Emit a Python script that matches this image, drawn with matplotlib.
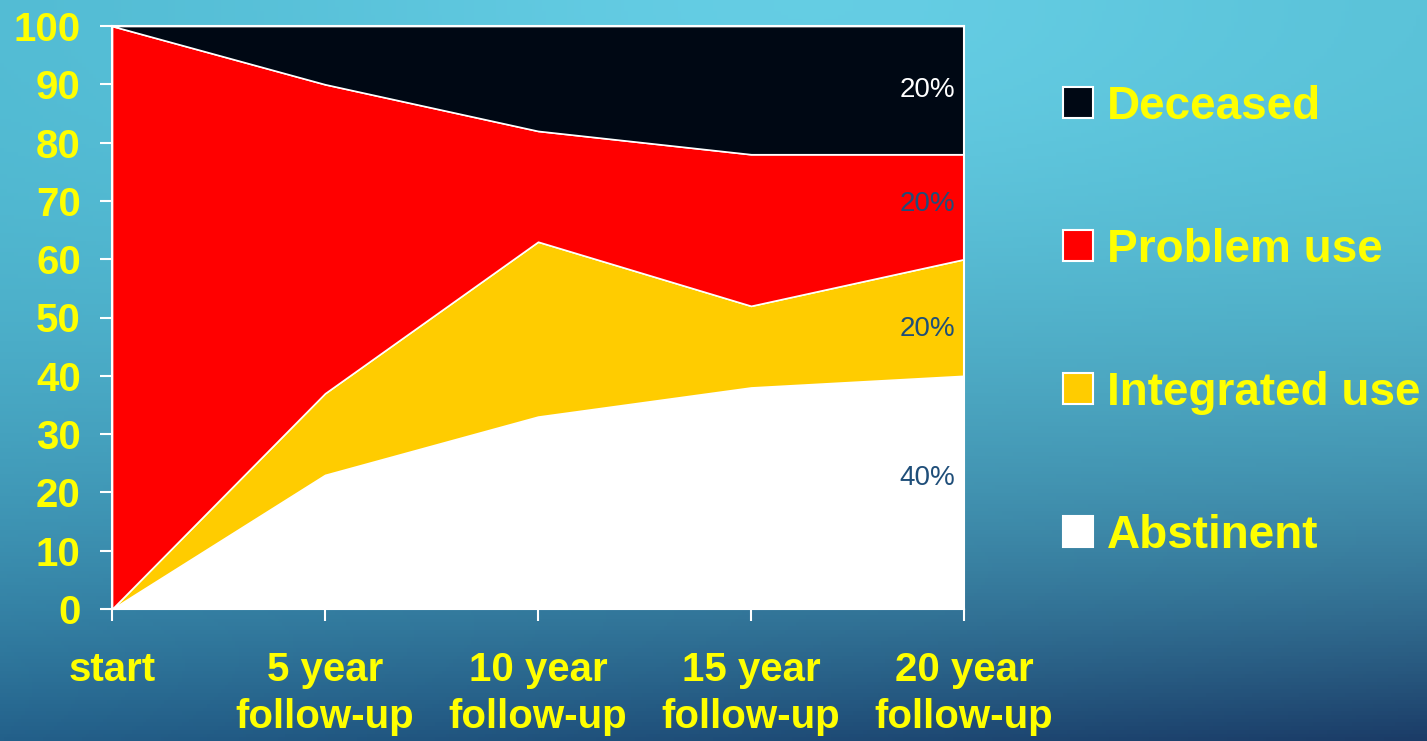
import numpy as np
import matplotlib
matplotlib.use('Agg')
import matplotlib.pyplot as plt
from matplotlib.patches import Patch
from matplotlib.colors import to_rgb

# --- data (percent of cohort) ---
periods = ['start', '5 year\nfollow-up', '10 year\nfollow-up', '15 year\nfollow-up', '20 year\nfollow-up']
abstinent = [0, 23, 33, 38, 40]
integrated = [0, 14, 30, 14, 20]
problem = [100, 53, 19, 26, 18]
deceased = [0, 10, 18, 22, 22]

series_names = ['Abstinent', 'Integrated use', 'Problem use', 'Deceased']
series_colors = ['#FFFFFF', '#FFCC00', '#FF0000', '#000814']
end_labels = ['40%', '20%', '20%', '20%']
end_label_y = [22.5, 48, 69.5, 89]
end_label_colors = ['#1F4E79', '#1F4E79', '#1F4E79', '#FFFFFF']

yellow = '#FFFF00'
plt.rcParams['font.family'] = ['Liberation Sans', 'DejaVu Sans']

fig = plt.figure(figsize=(14.27, 7.41), dpi=100)

# background gradient (light teal at top, dark navy bottom right)
bg = fig.add_axes([0, 0, 1, 1], zorder=0)
h, w = 200, 400
yy, xx = np.mgrid[0:1:h * 1j, 0:1:w * 1j]
t = yy ** 2.4
tl, tr = np.array(to_rgb('#52BBD3')), np.array(to_rgb('#58C0D6'))
bl, br = np.array(to_rgb('#23608A')), np.array(to_rgb('#1B3C67'))
top = tl[None, None, :] * (1 - xx[..., None]) + tr[None, None, :] * xx[..., None]
bot = bl[None, None, :] * (1 - xx[..., None]) + br[None, None, :] * xx[..., None]
img = top * (1 - t[..., None]) + bot * t[..., None]
# soft highlight near the top middle
glow = np.exp(-(((xx - 0.55) / 0.35) ** 2 + (yy / 0.35) ** 2))
img = np.clip(img + 0.06 * glow[..., None], 0, 1)
bg.imshow(img, aspect='auto', extent=[0, 1, 0, 1], origin='upper')
bg.set_axis_off()

ax = fig.add_axes([112 / 1427, 1 - 609 / 741, (964 - 112) / 1427, (609 - 26) / 741], zorder=1)
ax.patch.set_alpha(0)

x = np.arange(len(periods))
polys = ax.stackplot(x, abstinent, integrated, problem, deceased,
                     colors=series_colors, edgecolor='white', linewidth=1.2)

ax.set_xlim(0, len(periods) - 1)
ax.set_ylim(0, 100)
ax.set_yticks(range(0, 101, 10))
ax.set_xticks(x)
ax.set_xticklabels(periods, linespacing=1.3)

ax.tick_params(axis='both', colors='white', length=8.5, width=1.5, direction='out',
               labelcolor=yellow, labelsize=29)
ax.tick_params(axis='x', pad=22)
ax.tick_params(axis='y', pad=14)
for lab in ax.get_xticklabels() + ax.get_yticklabels():
    lab.set_fontweight('bold')
for sp in ax.spines.values():
    sp.set_color('white')
    sp.set_linewidth(1.5)

# labels at the right end of each band
for lbl, yv, c in zip(end_labels, end_label_y, end_label_colors):
    ax.text(x[-1] - 0.04, yv, lbl, ha='right', va='center', fontsize=20, color=c)

handles = [Patch(facecolor=c, edgecolor='white', linewidth=1.5, label=n)
           for n, c in zip(series_names, series_colors)][::-1]
leg = fig.legend(handles=handles, loc='upper left', bbox_to_anchor=(1063 / 1427, 1 - 85 / 741),
                 frameon=False, fontsize=33, handlelength=0.66, handleheight=0.66,
                 handletextpad=0.3, labelspacing=2.16, borderpad=0, borderaxespad=0)
for txt in leg.get_texts():
    txt.set_color(yellow)
    txt.set_fontweight('bold')

fig.savefig('out.png', dpi=100)
